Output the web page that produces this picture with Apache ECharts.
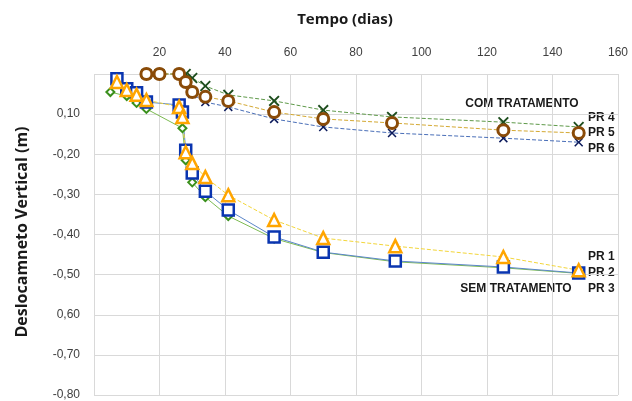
<!DOCTYPE html>
<html>
<head>
<meta charset="utf-8">
<script src="https://cdn.jsdelivr.net/npm/echarts@6/dist/echarts.min.js"></script>
<style>html,body{margin:0;padding:0;background:#fff;}#c{width:632px;height:401px;}</style>
</head>
<body>
<div id="c"></div>
<script>
// ---- data ----
const daysTreated = [16, 20, 26, 28, 30, 34, 41, 55, 70, 91, 125, 148];
const pr4 = [0, 0, 0, 0, -0.01, -0.03, -0.052, -0.067, -0.09, -0.107, -0.12, -0.132];
const pr5 = [0, 0, 0, -0.02, -0.045, -0.057, -0.067, -0.095, -0.112, -0.122, -0.14, -0.147];
const pr6 = [0, 0, 0, -0.02, -0.05, -0.07, -0.082, -0.112, -0.132, -0.147, -0.16, -0.17];

const daysUntreated = [7, 10, 13, 16, 26, 27, 28, 30, 34, 41, 55, 70, 92, 125, 148];
const pr1 = [-0.02, -0.04, -0.052, -0.065, -0.082, -0.107, -0.195, -0.222, -0.257, -0.302, -0.364, -0.409, -0.429, -0.456, -0.489];
const pr2 = [-0.012, -0.037, -0.047, -0.07, -0.077, -0.095, -0.19, -0.247, -0.292, -0.339, -0.406, -0.444, -0.466, -0.481, -0.496];
const daysPr3 = [5, 10, 13, 16, 27, 28, 30, 34, 41, 55, 70, 92, 125, 148];
const pr3 = [-0.045, -0.055, -0.072, -0.087, -0.135, -0.215, -0.27, -0.307, -0.354, -0.41, -0.445, -0.468, -0.483, -0.497];

const yTickValues = [-0.1, -0.2, -0.3, -0.4, -0.5, -0.6, -0.7, -0.8];
const yTickLabels = ['0,10', '-0,20', '-0,30', '-0,40', '-0,50', '0,60', '-0,70', '-0,80'];
const xTitle = 'Tempo (dias)';
const yTitle = 'Deslocamneto Vertical (m)';

function pairs(xs, ys) { return xs.map((x, i) => [x, ys[i]]); }

const X_PATH = 'path://M0,1.2L1.2,0L5,3.8L8.8,0L10,1.2L6.2,5L10,8.8L8.8,10L5,6.2L1.2,10L0,8.8L3.8,5Z';

const chart = echarts.init(document.getElementById('c'), null, {renderer: 'canvas'});
chart.setOption({
  animation: false,
  backgroundColor: '#ffffff',
  grid: {left: 94, right: 14, top: 74, bottom: 6},
  xAxis: {
    type: 'value', position: 'top', min: 0, max: 160, interval: 20,
    axisLine: {show: false}, axisTick: {show: false},
    axisLabel: {
      margin: 15, color: '#404040', fontSize: 12, fontFamily: 'Liberation Sans',
      formatter: v => (v === 0 ? '' : String(v))
    },
    splitLine: {show: true, lineStyle: {color: '#d9d9d9', width: 1}}
  },
  yAxis: {
    type: 'value', min: -0.8, max: 0, interval: 0.1,
    axisLine: {show: false}, axisTick: {show: false},
    axisLabel: {
      margin: 14, color: '#404040', fontSize: 12, fontFamily: 'Liberation Sans',
      formatter: v => {
        const i = yTickValues.findIndex(t => Math.abs(t - v) < 1e-6);
        return i >= 0 ? yTickLabels[i] : '';
      }
    },
    splitLine: {show: true, lineStyle: {color: '#d9d9d9', width: 1}}
  },
  graphic: [
    {type: 'text', position: [345, 20], style: {text: xTitle, align: 'center', verticalAlign: 'middle', fill: '#1a1a1a', font: 'bold 15px "Open Sans"'}},
    {type: 'text', rotation: Math.PI / 2, position: [22, 232], style: {text: yTitle, align: 'center', verticalAlign: 'middle', fill: '#1a1a1a', font: 'bold 16px "Open Sans"'}},
    {type: 'text', position: [522, 104], style: {text: 'COM TRATAMENTO', align: 'center', verticalAlign: 'middle', fill: '#1a1a1a', font: 'bold 12px "Liberation Sans"'}},
    {type: 'text', position: [588, 118], style: {text: 'PR 4', align: 'left', verticalAlign: 'middle', fill: '#1a1a1a', font: 'bold 12px "Liberation Sans"'}},
    {type: 'text', position: [588, 133], style: {text: 'PR 5', align: 'left', verticalAlign: 'middle', fill: '#1a1a1a', font: 'bold 12px "Liberation Sans"'}},
    {type: 'text', position: [588, 149], style: {text: 'PR 6', align: 'left', verticalAlign: 'middle', fill: '#1a1a1a', font: 'bold 12px "Liberation Sans"'}},
    {type: 'text', position: [588, 257], style: {text: 'PR 1', align: 'left', verticalAlign: 'middle', fill: '#1a1a1a', font: 'bold 12px "Liberation Sans"'}},
    {type: 'text', position: [588, 273], style: {text: 'PR 2', align: 'left', verticalAlign: 'middle', fill: '#1a1a1a', font: 'bold 12px "Liberation Sans"'}},
    {type: 'text', position: [588, 289], style: {text: 'PR 3', align: 'left', verticalAlign: 'middle', fill: '#1a1a1a', font: 'bold 12px "Liberation Sans"'}},
    {type: 'text', position: [516, 289], style: {text: 'SEM TRATAMENTO', align: 'center', verticalAlign: 'middle', fill: '#1a1a1a', font: 'bold 12px "Liberation Sans"'}}
  ],
  series: [
    {
      name: 'PR 6', type: 'line', data: pairs(daysTreated, pr6), clip: false,
      symbol: X_PATH, symbolSize: 9,
      lineStyle: {color: '#4a6fb8', width: 1, type: 'dashed'},
      itemStyle: {color: '#0b1a5c', borderWidth: 0}
    },
    {
      name: 'PR 4', type: 'line', data: pairs(daysTreated, pr4), clip: false,
      symbol: X_PATH, symbolSize: 11,
      lineStyle: {color: '#5f9a4a', width: 1, type: 'dashed'},
      itemStyle: {color: '#1d4d1d', borderWidth: 0}
    },
    {
      name: 'PR 5', type: 'line', data: pairs(daysTreated, pr5), clip: false,
      symbol: 'circle', symbolSize: 11, showAllSymbol: true,
      lineStyle: {color: '#d4a933', width: 1, type: 'dashed'},
      itemStyle: {color: '#ffffff', borderColor: '#8a4b08', borderWidth: 3}
    },
    {
      name: 'PR 3', type: 'line', data: pairs(daysPr3, pr3), clip: false,
      symbol: 'diamond', symbolSize: 8, showAllSymbol: true,
      lineStyle: {color: '#7dbb52', width: 1},
      itemStyle: {color: '#ffffff', borderColor: '#3a901c', borderWidth: 2}
    },
    {
      name: 'PR 2', type: 'line', data: pairs(daysUntreated, pr2), clip: false,
      symbol: 'rect', symbolSize: 11, showAllSymbol: true,
      lineStyle: {color: '#5b86c9', width: 1},
      itemStyle: {color: '#ffffff', borderColor: '#0a35b0', borderWidth: 2.5}
    },
    {
      name: 'PR 1', type: 'line', data: pairs(daysUntreated, pr1), clip: false,
      symbol: 'triangle', symbolSize: 12, showAllSymbol: true,
      lineStyle: {color: '#f3d63a', width: 1, type: 'dashed'},
      itemStyle: {color: '#ffffff', borderColor: '#ffa500', borderWidth: 2.5}
    }
  ]
});
</script>
</body>
</html>
